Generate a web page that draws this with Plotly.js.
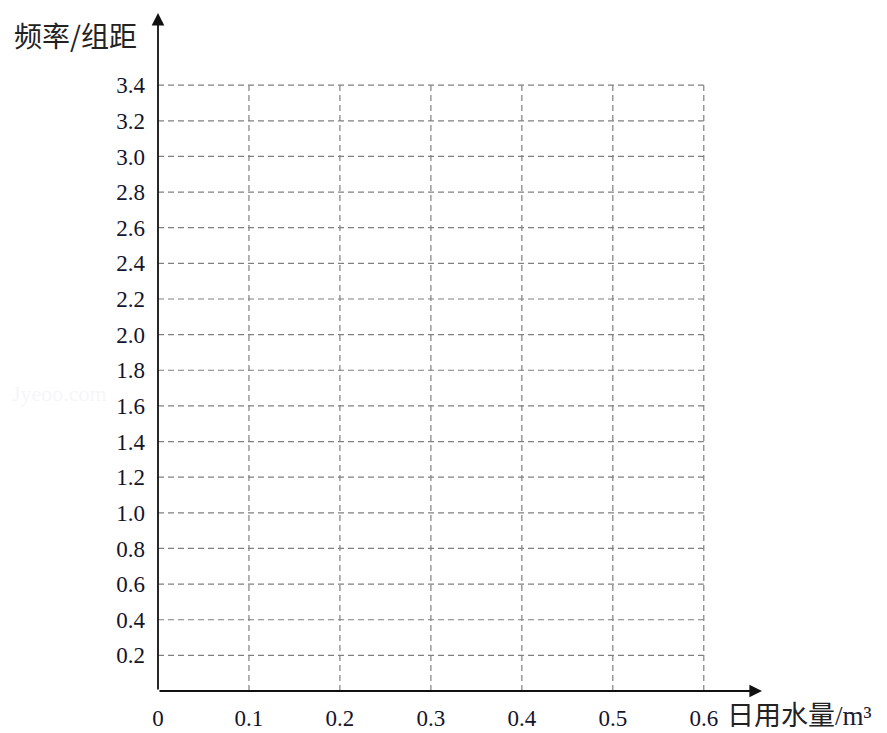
<!DOCTYPE html>
<html>
<head>
<meta charset="utf-8">
<script src="https://cdn.plot.ly/plotly-3.0.1.min.js"></script>
<style>html,body{margin:0;padding:0;background:#fff;}#chart{width:887px;height:733px;}</style>
</head>
<body>
<div id="chart"></div>
<script>
// Grid/tick values
const xTicks = [0, 0.1, 0.2, 0.3, 0.4, 0.5, 0.6];
const xTickLabels = ["0", "0.1", "0.2", "0.3", "0.4", "0.5", "0.6"];
const yTicks = [0.2, 0.4, 0.6, 0.8, 1.0, 1.2, 1.4, 1.6, 1.8, 2.0, 2.2, 2.4, 2.6, 2.8, 3.0, 3.2, 3.4];
const yTickLabels = yTicks.map(v => v.toFixed(1));
const yLabel = "频率/组距";
const xLabel = "日用水量";
const xUnit = "/m³";

const xMax = 0.6, yMax = 3.4;
const xArrow = 0.664, yArrow = 3.805;

const gridLine = {color: '#808080', width: 1.2, dash: '6px,4px'};
const shapes = [];
xTicks.filter(v => v > 0).forEach(v => shapes.push({type: 'line', xref: 'x', yref: 'y', x0: v, x1: v, y0: 0, y1: yMax, line: gridLine, layer: 'below'}));
yTicks.forEach(v => shapes.push({type: 'line', xref: 'x', yref: 'y', x0: 0, x1: xMax, y0: v, y1: v, line: gridLine, layer: 'below'}));

const tickFont = {family: '"Liberation Serif", "Times New Roman", serif', size: 23, color: '#14142a'};
const cjk = '"Noto Sans CJK SC", "Noto Sans", sans-serif';

const annotations = [
  {x: xArrow, y: 0, ax: 0, ay: 0, xref: 'x', yref: 'y', axref: 'x', ayref: 'y', text: '', showarrow: true, arrowhead: 2, arrowsize: 1.4, arrowwidth: 1.8, arrowcolor: '#111'},
  {x: 0, y: yArrow, ax: 0, ay: 0, xref: 'x', yref: 'y', axref: 'x', ayref: 'y', text: '', showarrow: true, arrowhead: 2, arrowsize: 1.4, arrowwidth: 1.8, arrowcolor: '#111'},
  {xref: 'paper', yref: 'paper', x: -146 / 604, y: (691 - 35) / 678, xanchor: 'left', yanchor: 'middle', showarrow: false, text: yLabel, font: {family: cjk, size: 28, color: '#222'}},
  {xref: 'paper', yref: 'paper', x: (725 - 158) / 604, y: -(713 - 691) / 678, xanchor: 'left', yanchor: 'middle', height: 28, valign: 'middle', showarrow: false,
   text: xLabel + '<span style="font-family:\'Liberation Serif\',serif;font-size:27px;color:#1c1c30">' + xUnit + '</span>', font: {family: cjk, size: 27, color: '#222'}},
  {xref: 'paper', yref: 'paper', x: (10 - 158) / 604, y: (691 - 393) / 678, xanchor: 'left', yanchor: 'middle', showarrow: false, text: 'Jyeoo.com', font: {family: '"Liberation Serif", serif', size: 22, color: '#f6f6fa'}}
];

const layout = {
  width: 887, height: 733,
  margin: {l: 158, r: 125, t: 13, b: 42, pad: 0},
  paper_bgcolor: '#fff', plot_bgcolor: '#fff',
  showlegend: false,
  xaxis: {range: [0, xArrow], showgrid: false, zeroline: false, showline: false, tickmode: 'array', tickvals: xTicks, ticktext: xTickLabels, ticks: '', tickfont: tickFont, ticklabelstandoff: 11, fixedrange: true},
  yaxis: {range: [0, yArrow], showgrid: false, zeroline: false, showline: false, tickmode: 'array', tickvals: yTicks, ticktext: yTickLabels, ticks: '', tickfont: tickFont, ticklabelstandoff: 12, fixedrange: true},
  shapes: shapes,
  annotations: annotations
};

Plotly.newPlot('chart', [{x: [0], y: [0], mode: 'markers', marker: {opacity: 0}, hoverinfo: 'skip'}], layout, {displayModeBar: false, staticPlot: true});
</script>
</body>
</html>
